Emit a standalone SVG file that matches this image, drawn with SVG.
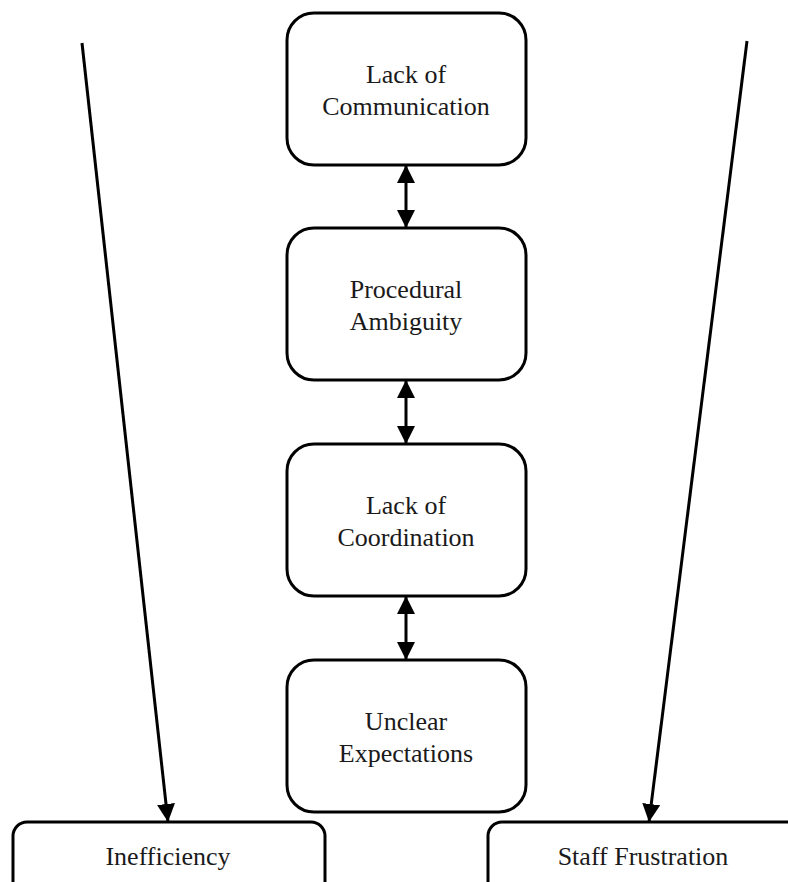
<svg xmlns="http://www.w3.org/2000/svg" width="788" height="882" viewBox="0 0 788 882">
  <style>
    .box { fill: #ffffff; stroke: #000000; stroke-width: 3; }
    .lbl { font-family: "Liberation Serif", "Times New Roman", serif; font-size: 26px; fill: #1a1a1a; text-anchor: middle; }
    .link { stroke: #000000; stroke-width: 3; fill: none; }
  </style>
  <defs>
    <marker id="head" viewBox="0 0 10 10" refX="10" refY="5" markerWidth="6" markerHeight="6" markerUnits="strokeWidth" orient="auto-start-reverse">
      <path d="M0,0 L10,5 L0,10 Z" fill="#000000"/>
    </marker>
  </defs>
  <rect width="788" height="882" fill="#ffffff"/>

  <g id="connectors">
    <line class="link" x1="406" y1="165" x2="406" y2="228" marker-start="url(#head)" marker-end="url(#head)"/>
    <line class="link" x1="406" y1="380" x2="406" y2="444" marker-start="url(#head)" marker-end="url(#head)"/>
    <line class="link" x1="406" y1="596" x2="406" y2="660" marker-start="url(#head)" marker-end="url(#head)"/>
    <line class="link" x1="82" y1="43" x2="168" y2="822" marker-end="url(#head)"/>
    <line class="link" x1="747" y1="41" x2="649" y2="822" marker-end="url(#head)"/>
  </g>

  <g id="lack-of-communication">
    <rect class="box" x="287" y="13" width="239" height="152" rx="27"/>
    <text class="lbl" x="406" y="83">Lack of</text>
    <text class="lbl" x="406" y="115">Communication</text>
  </g>

  <g id="procedural-ambiguity">
    <rect class="box" x="287" y="228" width="239" height="152" rx="27"/>
    <text class="lbl" x="406" y="298">Procedural</text>
    <text class="lbl" x="406" y="330">Ambiguity</text>
  </g>

  <g id="lack-of-coordination">
    <rect class="box" x="287" y="444" width="239" height="152" rx="27"/>
    <text class="lbl" x="406" y="514">Lack of</text>
    <text class="lbl" x="406" y="546">Coordination</text>
  </g>

  <g id="unclear-expectations">
    <rect class="box" x="287" y="660" width="239" height="152" rx="27"/>
    <text class="lbl" x="406" y="730">Unclear</text>
    <text class="lbl" x="406" y="762">Expectations</text>
  </g>

  <g id="inefficiency">
    <rect class="box" x="13" y="822" width="312" height="100" rx="14"/>
    <text class="lbl" x="168" y="865">Inefficiency</text>
  </g>

  <g id="staff-frustration">
    <rect class="box" x="488" y="822" width="340" height="100" rx="14"/>
    <text class="lbl" x="643" y="865">Staff Frustration</text>
  </g>
</svg>
